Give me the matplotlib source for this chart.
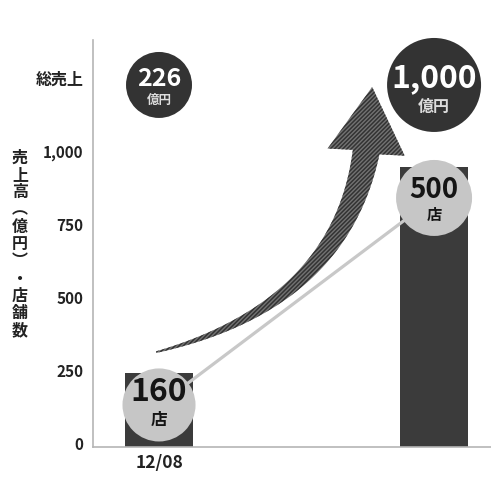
import numpy as np
import matplotlib
matplotlib.use('Agg')
from matplotlib import pyplot as plt
from matplotlib.patches import Polygon
from matplotlib.transforms import ScaledTranslation

plt.rcParams['font.family'] = ['Noto Sans CJK JP', 'DejaVu Sans']
plt.rcParams['hatch.linewidth'] = 1.1

# chart values
periods = ['12/08', '']
bar_heights = [255, 960]
store_labels = ['160', '500']
sales_labels = ['226', '1,000']
ytick_values = [0, 250, 500, 750, 1000]
ytick_labels = ['0', '250', '500', '750', '1,000']
ylabel_text = '売上高︵億円︶・店舗数'
sales_title = '総売上'

# layout (data units)
store_badge_y = [144, 853]
sales_badge_y = 1240
x = np.arange(len(bar_heights))

fig = plt.figure(figsize=(4.91, 4.84), dpi=100)
ax = fig.add_axes([93 / 491, 37 / 484, 1 - 93 / 491, 407 / 484])
ax.set_xlim(-0.24, 1.207)
ax.set_ylim(0, 1394)

ax.bar(x, bar_heights, width=0.25, color='#3b3b3b', zorder=2)

# connector line between store badges
ax.plot(x, store_badge_y, color='#c8c8c8', lw=2.3, zorder=3, solid_capstyle='butt')

# store badges
ax.scatter(x, store_badge_y, s=[2766, 2994], color='#c6c6c6', zorder=4, linewidths=0)
num_off = [9, 6]
sub_off = [-11, -12]
num_fs = [23, 20]
sub_fs = [12, 11]
for i in range(len(x)):
    ax.annotate(store_labels[i], (x[i], store_badge_y[i]), xytext=(0, num_off[i]),
                textcoords='offset points', ha='center', va='center',
                fontsize=num_fs[i], fontweight='bold', color='#151515', zorder=5)
    ax.annotate('店', (x[i], store_badge_y[i]), xytext=(0, sub_off[i]),
                textcoords='offset points', ha='center', va='center',
                fontsize=sub_fs[i], fontweight='bold', color='#151515', zorder=5)

# sales badges
ax.scatter(x, [sales_badge_y] * 2, s=[2257, 4580], color='#333333', zorder=4, linewidths=0,
           clip_on=False)
s_num_off = [4, 5]
s_sub_off = [-11, -16]
s_num_fs = [18, 23]
s_sub_fs = [9, 11.5]
for i in range(len(x)):
    ax.annotate(sales_labels[i], (x[i], sales_badge_y), xytext=(0, s_num_off[i]),
                textcoords='offset points', ha='center', va='center',
                fontsize=s_num_fs[i], fontweight='bold', color='white', zorder=5)
    ax.annotate('億円', (x[i], sales_badge_y), xytext=(0, s_sub_off[i]),
                textcoords='offset points', ha='center', va='center',
                fontsize=s_sub_fs[i], fontweight='bold', color='#dddddd', zorder=5)

# curved growth arrow (anchors in data units, shaped in display space)
tail = np.array([-0.01, 325])
ctrl = np.array([0.658, 486])
base = np.array([0.753, 1010])
tip = np.array([0.775, 1233])
to_disp = ax.transData
p0, p1, p2, pt = to_disp.transform([tail, ctrl, base, tip])
t = np.linspace(0, 1, 80)[:, None]
curve = (1 - t) ** 2 * p0 + 2 * (1 - t) * t * p1 + t ** 2 * p2
deriv = 2 * (1 - t) * (p1 - p0) + 2 * t * (p2 - p1)
norm = np.column_stack([-deriv[:, 1], deriv[:, 0]])
norm /= np.linalg.norm(norm, axis=1)[:, None]
half = 0.8 + 12.7 * t
left = curve + norm * half
right = curve - norm * half
hd = pt - p2
hn = np.array([-hd[1], hd[0]]) / np.linalg.norm(hd)
head_l = p2 + hn * 38.7
head_r = p2 - hn * 38.7
pts = np.vstack([left, head_l, pt, head_r, right[::-1]])
pts = to_disp.inverted().transform(pts)
ax.add_patch(Polygon(pts, closed=True, facecolor='#737373', edgecolor='#333333',
                     hatch='////////', lw=0, zorder=3))

# axes styling
for side in ['top', 'right']:
    ax.spines[side].set_visible(False)
for side in ['left', 'bottom']:
    ax.spines[side].set_color('#b5b5b5')
    ax.spines[side].set_linewidth(1.2)
ax.set_xticks(x)
ax.set_xticklabels(periods, fontsize=12.5, fontweight='bold', color='#222222')
ax.set_yticks(ytick_values)
ax.set_yticklabels(ytick_labels, fontsize=11, fontweight='bold', color='#222222')
ax.tick_params(length=0)
ax.tick_params(axis='y', pad=7)
ax.tick_params(axis='x', pad=5)
for lab in ax.get_yticklabels():
    lab.set_transform(lab.get_transform() + ScaledTranslation(0, 4 / 100, fig.dpi_scale_trans))

ax.annotate(sales_title, (0, 1257), xycoords=('axes fraction', 'data'), xytext=(-7, 0),
            textcoords='offset points', ha='right', va='center', fontsize=11.5,
            fontweight='bold', color='#222222')

fig.text(20 / 491, 1 - 244 / 484, '\n'.join(ylabel_text), ha='center', va='center',
         fontsize=11.5, fontweight='bold', color='#222222', linespacing=1.1)

fig.savefig('out.png', dpi=100)
